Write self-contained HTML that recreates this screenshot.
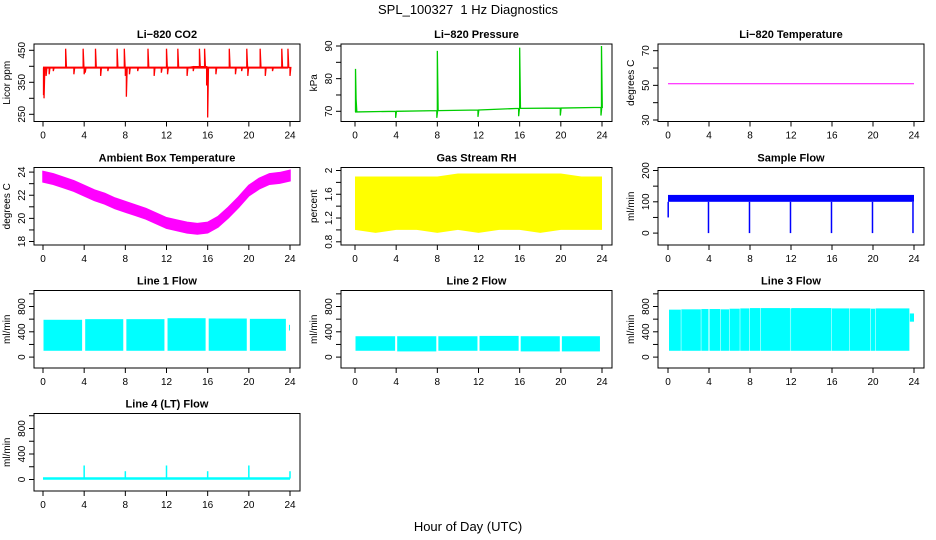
<!DOCTYPE html>
<html><head><meta charset="utf-8"><style>
body{margin:0;background:#fff}
svg{display:block;font-family:"Liberation Sans",Arial,sans-serif}
</style></head><body>
<svg id="c" width="936" height="540" viewBox="0 0 936 540">
<text x="468" y="14" text-anchor="middle" font-size="13">SPL_100327&#160; 1 Hz Diagnostics</text>
<text x="468" y="531" text-anchor="middle" font-size="13">Hour of Day (UTC)</text>
</svg>
<script>
// ---- data ----
const hourTicks=[0,4,8,12,16,20,24];
// CO2
const co2Base=396;
const co2EventHours=[0.05,0.1,0.3,0.6,1.0,2.2,3.0,3.9,4.0,4.1,5.1,5.6,6.3,7.2,7.9,8.0,8.1,8.4,9.2,10.2,10.8,11.5,12.0,12.1,13.1,14.0,14.6,15.2,15.7,15.9,16.0,16.1,16.8,18.1,18.7,19.3,19.8,19.9,21.1,21.6,22.3,23.2,23.8,24.0];
const co2EventVals=[310,300,370,375,385,455,375,455,375,380,455,370,385,455,455,370,305,375,385,455,370,380,455,375,455,370,385,455,455,340,240,395,375,455,375,385,455,370,455,370,385,455,455,370];
// Pressure
const presHours=[0,4,8,12,13,16,20,24];
const presBase=[69.8,70.0,70.2,70.4,70.6,70.9,71.0,71.2];
const presEventHours=[0.05,0.1,3.95,7.95,8.0,11.95,15.9,16.0,19.95,23.9,23.95];
const presEventVals=[83,74,68.0,68.0,88.5,68.3,68.5,89.5,68.7,68.7,90];
// Li-820 temperature
const tempHours=[0,24];
const tempVals=[50.9,50.9];
// Ambient box temperature
const ambHours=[0,1,2,3,4,5,6,7,8,9,10,11,12,13,14,15,16,17,18,19,20,21,22,23,24];
const ambCenter=[23.6,23.4,23.1,22.8,22.4,22.0,21.7,21.3,21.0,20.7,20.4,20.0,19.6,19.4,19.2,19.1,19.2,19.7,20.5,21.4,22.4,23.0,23.4,23.5,23.7];
const ambHalfWidth=0.45;
// Gas stream RH
const rhHours=[0,2,4,6,8,10,12,14,16,18,20,22,24];
const rhHigh=[1.9,1.9,1.9,1.9,1.9,1.95,1.95,1.95,1.95,1.95,1.95,1.9,1.9];
const rhLow=[1.0,0.95,1.0,1.0,0.95,1.0,0.95,1.0,1.0,0.95,1.0,1.0,1.0];
// Sample flow
const sfBaseLow=100, sfBaseHigh=122;
const sfEventHours=[0.02,3.95,7.95,11.95,15.95,19.95,23.9];
const sfEventVals=[50,0,0,0,0,0,0];
// Line flows: segments
const l1Start=[0.05,4.1,8.1,12.1,16.1,20.1,23.9];
const l1End=[3.8,7.8,11.8,15.8,19.8,23.6,24.0];
const l1Top=[590,600,600,615,610,605,510];
const l1Bottom=[100,100,100,100,100,100,420];
const l2Start=[0.05,4.1,8.1,12.1,16.1,20.1];
const l2End=[3.9,7.9,11.9,15.9,19.9,23.8];
const l2Top=[330,330,330,335,330,330];
const l2Bottom=[100,90,100,100,90,90];
const l3Start=[0.1,1.3,3.25,4.05,5.15,6.0,7.05,8.0,9.05,11.95,12.05,16.0,17.75,19.8,20.25,23.6];
const l3End=[1.25,3.2,3.95,5.1,5.95,7.0,7.95,9.0,11.9,12.0,15.95,17.7,19.75,20.2,23.55,24.0];
const l3Top=[750,755,760,760,755,765,770,775,775,770,775,770,770,765,770,690];
const l3Bottom=[100,100,100,100,100,100,100,100,100,100,100,100,100,100,100,560];
const l4Base=15;
const l4SpikeHours=[4,8,12,16,20,24];
const l4SpikeVals=[220,130,220,130,220,130];

// ---- layout ----
const NS="http://www.w3.org/2000/svg";
const svg=document.getElementById('c');
const cols=[{l:34,r:300,x0:43,x1:290},{l:341,r:612,x0:355,x1:602},{l:658,r:924,x0:668,x1:914}];
const rowTop=[44,167.5,290.5,413.5];
const H=77.5;
function mk(tag,attrs,parent){const e=document.createElementNS(NS,tag);for(const k in attrs)e.setAttribute(k,attrs[k]);(parent||svg).appendChild(e);return e;}

function panel(r,c,title,ylab,ref,yticks,ylabels,name){
  const col=cols[c],top=rowTop[r],bot=top+H;
  const g=mk('g',{});
  
  
  const X=h=>col.x0+(h/24)*(col.x1-col.x0);
  const Y=v=>top+ref[1]+(v-ref[0])*(ref[3]-ref[1])/(ref[2]-ref[0]);
  const t=mk('text',{x:(col.l+col.r)/2,y:top-6,'text-anchor':'middle','font-size':11,'font-weight':'bold'},g);
  t.textContent=title;
  
  
  const data=mk('g',{},g);
  
  
  const box=mk('rect',{x:col.l,y:top,width:col.r-col.l,height:H,fill:'none',stroke:'#000','stroke-width':1},g);
  
  
  const xa=mk('g',{},g);
  
  
  hourTicks.forEach(h=>{
    mk('line',{x1:X(h),x2:X(h),y1:bot,y2:bot+5,stroke:'#000'},xa);
    const tl=mk('text',{x:X(h),y:bot+17,'text-anchor':'middle','font-size':10},xa);tl.textContent=h;
  });
  const ya=mk('g',{},g);
  
  
  yticks.forEach(v=>{
    mk('line',{x1:col.l,x2:col.l-5,y1:Y(v),y2:Y(v),stroke:'#000'},ya);
    if(ylabels.includes(v)){const tl=mk('text',{x:col.l-9,y:Y(v),'text-anchor':'middle','font-size':10,transform:`rotate(-90 ${col.l-9} ${Y(v)})`},ya);tl.textContent=v;}
  });
  const yl=mk('text',{x:col.l-24,y:(top+bot)/2,'text-anchor':'middle','font-size':10,transform:`rotate(-90 ${col.l-24} ${(top+bot)/2})`},g);
  yl.textContent=ylab;
  
  
  return {X,Y,g:data};
}
function poly(p,pts,color,w){const e=mk('polyline',{points:pts.map(q=>q.join(',')).join(' '),fill:'none',stroke:color,'stroke-width':w||1},p.g);return e;}
function eventsLine(p,base,hrs,vals){
  const pts=[[p.X(0),p.Y(base(0))]];
  hrs.forEach((h,i)=>{pts.push([p.X(h),p.Y(base(h))]);pts.push([p.X(h),p.Y(vals[i])]);pts.push([p.X(h)+0.8,p.Y(base(h))]);});
  pts.push([p.X(24),p.Y(base(24))]);return pts;
}
function interp(hs,vs,h){for(let i=0;i<hs.length-1;i++){if(h<=hs[i+1])return vs[i]+(vs[i+1]-vs[i])*(h-hs[i])/(hs[i+1]-hs[i]);}return vs[vs.length-1];}
function segs(p,st,en,tp,bt,color,name){
  st.forEach((s,i)=>{const r=mk('rect',{x:p.X(s),y:p.Y(tp[i]),width:Math.max(1,p.X(en[i])-p.X(s)),height:p.Y(bt[i])-p.Y(tp[i]),fill:color},p.g);
    
    });
}

// CO2
let p=panel(0,0,'Li\u2212820 CO2','Licor ppm',[450,6.3,250,70.3],[250,300,350,400,450],[250,350,450],'co2');
let e=poly(p,eventsLine(p,h=>co2Base+(h>14&&h<16?3:0),co2EventHours,co2EventVals),'#ff0000',1.3);


mk('line',{x1:p.X(0),x2:p.X(23.8),y1:p.Y(co2Base),y2:p.Y(co2Base),stroke:'#ff0000','stroke-width':2},p.g);
// Pressure
p=panel(0,1,'Li\u2212820 Pressure','kPa',[90,2,70,67.3],[70,75,80,85,90],[70,80,90],'pressure');
e=poly(p,eventsLine(p,h=>interp(presHours,presBase,h),presEventHours,presEventVals),'#00cd00',1.3);


// Temperature
p=panel(0,2,'Li\u2212820 Temperature','degrees C',[70,6.7,30,76],[30,40,50,60,70],[30,50,70],'li820-temp');
e=poly(p,tempHours.map((h,i)=>[p.X(h),p.Y(tempVals[i])]),'#ff00ff',1);


// Ambient
p=panel(1,0,'Ambient Box Temperature','degrees C',[24,4.6,18,74],[18,19,20,21,22,23,24],[18,20,22,24],'ambient');
{const up=ambHours.map((h,i)=>[p.X(h),p.Y(ambCenter[i]+ambHalfWidth)]);const lo=ambHours.map((h,i)=>[p.X(h),p.Y(ambCenter[i]-ambHalfWidth)]).reverse();
e=mk('polygon',{points:up.concat(lo).map(q=>q.join(',')).join(' '),fill:'#ff00ff',stroke:'#ff00ff','stroke-width':1.5},p.g);

}
// RH
p=panel(1,1,'Gas Stream RH','percent',[2.0,3,0.8,74.3],[0.8,1.0,1.2,1.4,1.6,1.8,2.0],[0.8,1.2,1.6,2.0],'rh');
{const up=rhHours.map((h,i)=>[p.X(h),p.Y(rhHigh[i])]);const lo=rhHours.map((h,i)=>[p.X(h),p.Y(rhLow[i])]).reverse();
e=mk('polygon',{points:up.concat(lo).map(q=>q.join(',')).join(' '),fill:'#ffff00'},p.g);

}
// Sample flow
p=panel(1,2,'Sample Flow','ml/min',[200,3,0,65.6],[0,50,100,150,200],[0,100,200],'sample-flow');
e=mk('rect',{x:p.X(0),y:p.Y(sfBaseHigh),width:p.X(24)-p.X(0),height:p.Y(sfBaseLow)-p.Y(sfBaseHigh),fill:'#0000ff'},p.g);


sfEventHours.forEach((h,i)=>{const l=mk('line',{x1:p.X(h),x2:p.X(h),y1:p.Y(sfBaseLow),y2:p.Y(sfEventVals[i]),stroke:'#0000ff','stroke-width':1.5},p.g);

});
// Line 1-3
const lref=[800,16,0,66.6],lt=[0,200,400,600,800,1000],ll=[0,400,800];
p=panel(2,0,'Line 1 Flow','ml/min',lref,lt,ll,'line1');segs(p,l1Start,l1End,l1Top,l1Bottom,'#00ffff','line1');
p=panel(2,1,'Line 2 Flow','ml/min',lref,lt,ll,'line2');segs(p,l2Start,l2End,l2Top,l2Bottom,'#00ffff','line2');
p=panel(2,2,'Line 3 Flow','ml/min',lref,lt,ll,'line3');segs(p,l3Start,l3End,l3Top,l3Bottom,'#00ffff','line3');
// Line 4
p=panel(3,0,'Line 4 (LT) Flow','ml/min',[800,15,0,66],lt,ll,'line4');
e=mk('line',{x1:p.X(0),x2:p.X(24),y1:p.Y(l4Base),y2:p.Y(l4Base),stroke:'#00ffff','stroke-width':2.5},p.g);


l4SpikeHours.forEach((h,i)=>{const l=mk('line',{x1:p.X(h),x2:p.X(h),y1:p.Y(l4Base),y2:p.Y(l4SpikeVals[i]),stroke:'#00ffff','stroke-width':1.5},p.g);

});
</script>
</body></html>
